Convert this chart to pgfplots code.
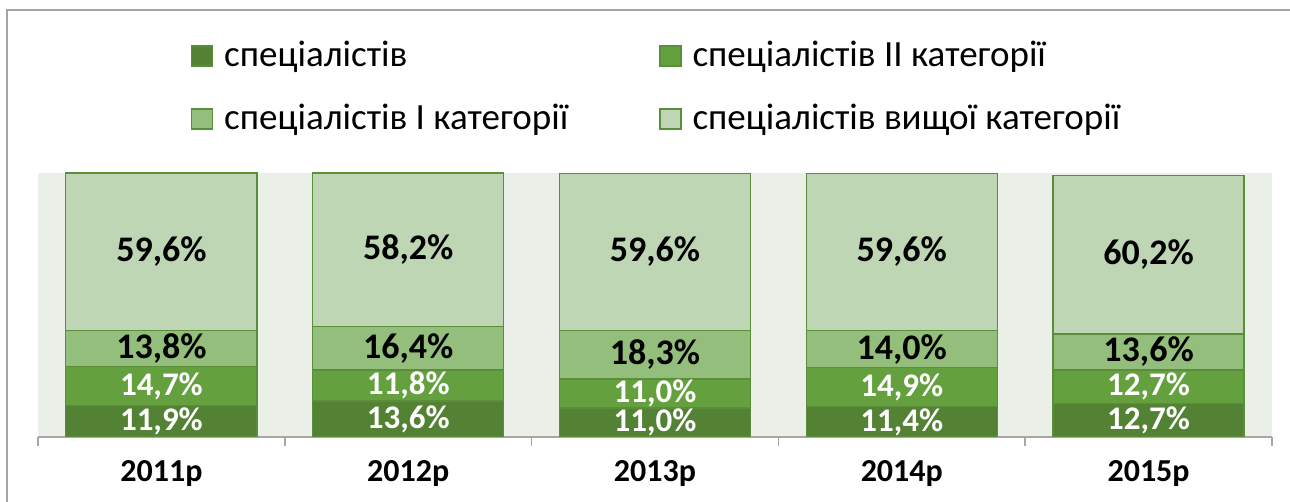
\documentclass[border=0pt]{standalone}
\usepackage{fontspec}
\setmainfont{Carlito}
\usepackage{pgfplots}
\usepackage{pgfplotstable}
\pgfplotsset{compat=1.18}
\definecolor{segA}{HTML}{548235}
\definecolor{segB}{HTML}{64A03E}
\definecolor{segC}{HTML}{93BE7B}
\definecolor{segD}{HTML}{BFD6B5}
\definecolor{barline}{HTML}{5A8E3A}
\definecolor{plotbg}{HTML}{EAEFE8}
\definecolor{frameGrey}{HTML}{A6A6A6}

% shares by year: a = спеціалістів, b = II кат., c = I кат., d = вищої кат.
\pgfplotstableread{
x a b c d
0 11.9 14.7 13.8 59.6
1 13.6 11.8 16.4 58.2
2 11.0 11.0 18.3 59.6
3 11.4 14.9 14.0 59.6
4 12.7 12.7 13.6 60.2
}\shares

\begin{document}
\begin{tikzpicture}
\useasboundingbox (0,0) rectangle (1290pt,502pt);
\draw[frameGrey, line width=1.5pt] (7pt,-5pt) -- (7pt,492pt) -- (1300pt,492pt);
\begin{axis}[
  at={(38pt,65pt)}, anchor=south west,
  scale only axis, width=1234pt, height=264pt,
  ybar stacked, bar width=191pt,
  xmin=-0.5, xmax=4.5, ymin=0, ymax=100,
  axis background/.style={fill=plotbg},
  axis x line=bottom, axis y line=none,
  x axis line style={-, draw=frameGrey, line width=1.5pt},
  xtick={0,1,2,3,4},
  xticklabels={2011р,2012р,2013р,2014р,2015р},
  minor xtick={-0.5,0.5,1.5,2.5,3.5,4.5},
  major tick length=0pt, minor tick length=9pt,
  tick align=outside,
  minor tick style={draw=frameGrey, line width=1.5pt},
  xticklabel style={font=\bfseries\fontsize{32}{38}\selectfont, yshift=-20pt},
  % stacked labels already sit at the middle of each segment
  every node near coord/.style={anchor=center},
  nodes near coords={\pgfmathprintnumber[fixed, fixed zerofill, precision=1, use comma, assume math mode=true]{\pgfplotspointmeta}\%},
  legend columns=2,
  legend style={draw=none, fill=none, at={(axis description cs:0.124,1.496)}, anchor=north west,
    inner sep=0pt, outer sep=0pt, row sep=31pt,
    font=\fontsize{37}{44}\selectfont,
    nodes={inner sep=0pt, text height=24pt, text depth=8pt, anchor=base west},
    /tikz/every odd column/.append style={column sep=11pt},
    /tikz/every even column/.append style={column sep=91pt}},
  legend image code/.code={\draw[#1, draw=barline, line width=1.2pt] (0pt,0pt) rectangle (21pt,20pt);},
]
\addplot[fill=segA, draw=barline, line width=1.2pt,
  nodes near coords style={white, font=\bfseries\fontsize{33}{38}\selectfont}]
  table[x=x, y=a] {\shares};
\addlegendentry{спеціалістів}
\addplot[fill=segB, draw=barline, line width=1.2pt,
  nodes near coords style={white, font=\bfseries\fontsize{33}{38}\selectfont}]
  table[x=x, y=b] {\shares};
\addlegendentry{спеціалістів II категорії}
\addplot[fill=segC, draw=barline, line width=1.2pt,
  nodes near coords style={black, font=\bfseries\fontsize{36}{42}\selectfont}]
  table[x=x, y=c] {\shares};
\addlegendentry{спеціалістів I категорії}
\addplot[fill=segD, draw=barline, line width=1.2pt,
  nodes near coords style={black, font=\bfseries\fontsize{36}{42}\selectfont}]
  table[x=x, y=d] {\shares};
\addlegendentry{спеціалістів вищої категорії}
\end{axis}
\end{tikzpicture}
\end{document}
